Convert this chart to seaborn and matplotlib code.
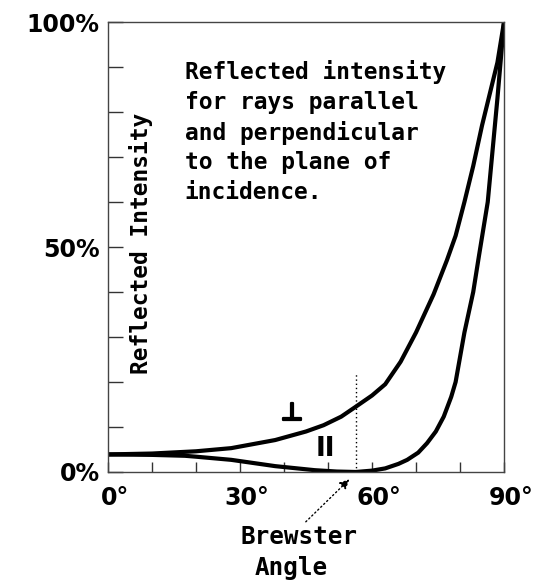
import matplotlib
matplotlib.use("Agg")
import matplotlib.pyplot as plt
import matplotlib.patheffects as pe
from matplotlib.transforms import ScaledTranslation
import seaborn as sns
import pandas as pd

# Reflected intensity (%) versus angle of incidence (degrees)
angle_perp = [0, 10, 20, 28, 38, 45, 49, 53, 56.3, 60, 63, 66.5, 70, 74, 77, 79, 81, 83, 85, 87, 88.5, 90]
refl_perp = [3.9, 4.1, 4.6, 5.3, 7.1, 9.0, 10.4, 12.3, 14.5, 17.0, 19.5, 24.5, 31.0, 39.5, 47.0, 52.5, 60.0, 68.0, 77.0, 85.0, 91.0, 100.0]

angle_par = [0, 10, 17.5, 20, 28, 38, 47, 52, 56.3, 60, 63, 66, 68, 70.5, 72.5, 74.5, 76.3, 78, 79, 81, 83, 84.3, 86.3, 88.5, 90]
refl_par = [3.9, 3.8, 3.6, 3.4, 2.7, 1.3, 0.4, 0.1, 0.0, 0.3, 0.8, 1.8, 2.7, 4.3, 6.4, 9.0, 12.3, 16.7, 20.0, 31.0, 40.0, 48.0, 60.0, 83.0, 100.0]

brewster_angle = 56.3
brewster_line_top = 22.2

x_ticks = [0, 10, 20, 30, 40, 50, 60, 70, 80, 90]
x_labels = ["0°", "", "", "30°", "", "", "60°", "", "", "90°"]
y_ticks = [0, 10, 20, 30, 40, 50, 60, 70, 80, 90, 100]
y_labels = ["0%", "", "", "", "", "50%", "", "", "", "", "100%"]

sns.set_theme(style="white")
plt.rcParams["font.family"] = ["DejaVu Sans"]
plt.rcParams["font.weight"] = "bold"
plt.rcParams["text.color"] = "black"
plt.rcParams["xtick.color"] = "black"
plt.rcParams["ytick.color"] = "black"

MONO = ["DejaVu Sans Mono", "DejaVu Sans"]

fig = plt.figure(figsize=(5.39, 5.84), dpi=100)
ax = fig.add_axes([0.2004, 0.1918, 0.7347, 0.7705])

df_perp = pd.DataFrame({"angle": angle_perp, "refl": refl_perp})
df_par = pd.DataFrame({"angle": angle_par, "refl": refl_par})
sns.lineplot(data=df_perp, x="angle", y="refl", ax=ax, color="black", lw=3.0,
             solid_joinstyle="round")
sns.lineplot(data=df_par, x="angle", y="refl", ax=ax, color="black", lw=3.0,
             solid_joinstyle="round")

# Brewster angle marker
ax.plot([brewster_angle, brewster_angle], [0, brewster_line_top],
        color="black", lw=1.0, ls=(0, (1, 2)))

ax.set_xlim(0, 90)
ax.set_ylim(0, 100)
ax.set_xlabel("")
ax.set_ylabel("")
ax.set_xticks(x_ticks)
ax.set_xticklabels(x_labels)
ax.set_yticks(y_ticks)
ax.set_yticklabels(y_labels)
ax.tick_params(axis="x", direction="in", length=7.5, width=1.0, color="#333333",
               pad=10, labelsize=17, bottom=True)
ax.tick_params(axis="y", direction="in", length=11, width=1.0, color="#333333",
               pad=6, labelsize=17, left=True)
shift = ScaledTranslation(7 / 100, 0, fig.dpi_scale_trans)
for lab in ax.get_xticklabels():
    lab.set_fontweight("bold")
    lab.set_transform(lab.get_transform() + shift)
for lab in ax.get_yticklabels():
    lab.set_fontweight("bold")
for sp in ax.spines.values():
    sp.set_color("#444444")
    sp.set_linewidth(1.0)

ax.text(0.083, 0.509, "Reflected Intensity", rotation=90, transform=ax.transAxes,
        ha="center", va="center", fontsize=16.5, fontweight="bold", family=MONO)

ax.text(0.194, 0.915,
        "Reflected intensity\nfor rays parallel\nand perpendicular\nto the plane of\nincidence.",
        transform=ax.transAxes, ha="left", va="top", fontsize=16.5,
        fontweight="bold", linespacing=1.36, family=MONO)

thick = [pe.withStroke(linewidth=1.6, foreground="black")]
ax.text(41.8, 13.0, "⊥", ha="center", va="center", fontsize=18, fontweight="bold",
        path_effects=thick)
ax.text(49.5, 5.0, "II", ha="center", va="center", fontsize=19, fontweight="bold")

ax.annotate("", xy=(55.3, -1.2), xytext=(44.5, -11.5),
            arrowprops=dict(arrowstyle="-|>", color="black", lw=1.0,
                            ls=(0, (1, 2)), mutation_scale=14),
            annotation_clip=False)
ax.text(43.3, -14.5, "Brewster", ha="center", va="center", fontsize=17.5,
        fontweight="bold", family=MONO)
ax.text(41.6, -21.4, "Angle", ha="center", va="center", fontsize=17.5,
        fontweight="bold", family=MONO)

fig.savefig("out.png", dpi=100)
